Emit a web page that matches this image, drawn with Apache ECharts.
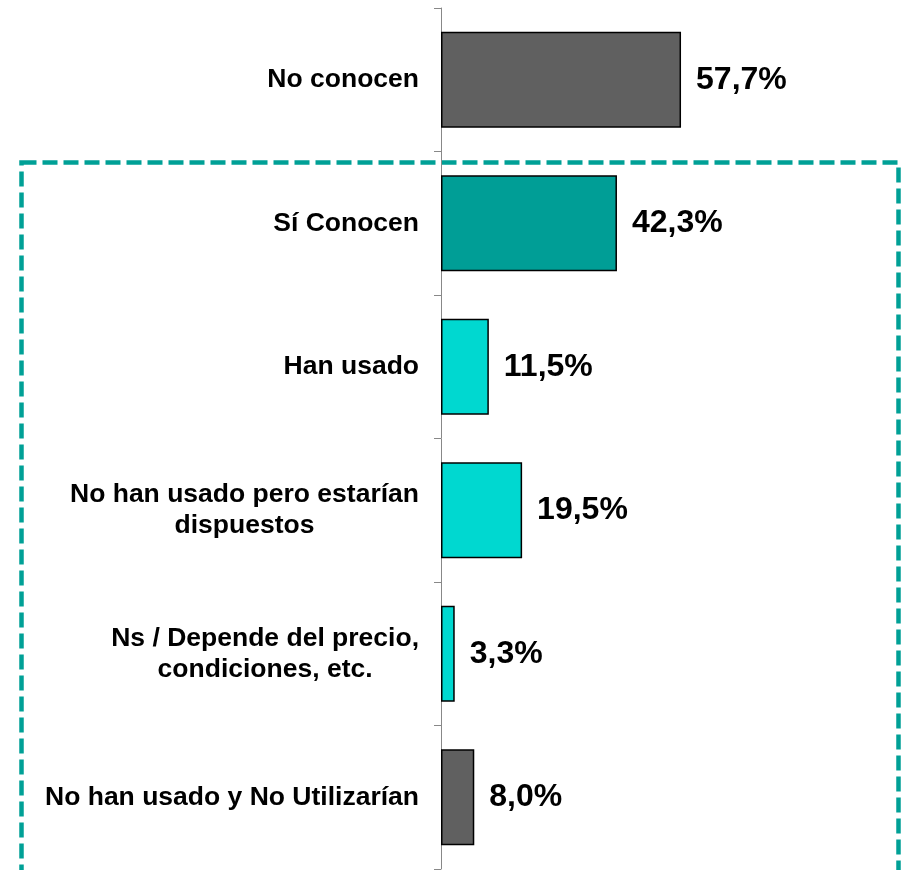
<!DOCTYPE html>
<html>
<head>
<meta charset="utf-8">
<script src="https://cdn.jsdelivr.net/npm/echarts@6/dist/echarts.min.js"></script>
<style>
  html, body { margin: 0; padding: 0; background: #fff; }
  #chart { width: 901px; height: 870px; }
</style>
</head>
<body>
<div id="chart"></div>
<script>
  // datos del gráfico
  const categories = [
    'No conocen',
    'Sí Conocen',
    'Han usado',
    'No han usado pero estarían\ndispuestos',
    'Ns / Depende del precio,\ncondiciones, etc.',
    'No han usado y No Utilizarían'
  ];
  const values = [57.7, 42.3, 11.5, 19.5, 3.3, 8.0];
  const barColors = ['#606060', '#009e96', '#00d8d0', '#00d8d0', '#00d8d0', '#606060'];

  let myChart = echarts.init(document.getElementById('chart'));
  let option = {
    animation: false,
    grid: { left: 441, right: 44, top: 8, bottom: 1 },
    xAxis: { type: 'value', min: 0, max: 100, show: false },
    yAxis: {
      type: 'category',
      inverse: true,
      data: categories,
      axisLine: { show: true, lineStyle: { color: '#888', width: 1 } },
      axisTick: { show: true, alignWithLabel: false, inside: false, length: 7, lineStyle: { color: '#888', width: 1 } },
      axisLabel: {
        margin: 22,
        align: 'right',
        formatter: function (v) {
          return v.split('\n').map(l => '{c|' + l + '}').join('\n');
        },
        rich: {
          c: {
            align: 'center',
            fontFamily: 'Liberation Sans, Arial, sans-serif',
            fontWeight: 'bold',
            fontSize: 26.5,
            lineHeight: 31,
            color: '#000'
          }
        }
      }
    },
    series: [
      {
        type: 'bar',
        barWidth: 96,
        data: values.map((v, i) => ({
          value: v,
          itemStyle: { color: barColors[i] }
        })),
        itemStyle: { borderColor: '#000', borderWidth: 1.5 },
        label: {
          show: true,
          position: 'right',
          distance: 15,
          formatter: p => p.value.toFixed(1).replace('.', ',') + '%',
          fontFamily: 'Liberation Sans, Arial, sans-serif',
          fontWeight: 'bold',
          fontSize: 32,
          color: '#000'
        }
      }
    ],
    graphic: [
      {
        type: 'rect',
        z: -1,
        shape: { x: 21.5, y: 162.5, width: 877, height: 710 },
        style: {
          fill: 'none',
          stroke: '#00a096',
          lineWidth: 4.5,
          lineDash: [15, 6]
        }
      }
    ]
  };
  option && myChart.setOption(option);
</script>
</body>
</html>
